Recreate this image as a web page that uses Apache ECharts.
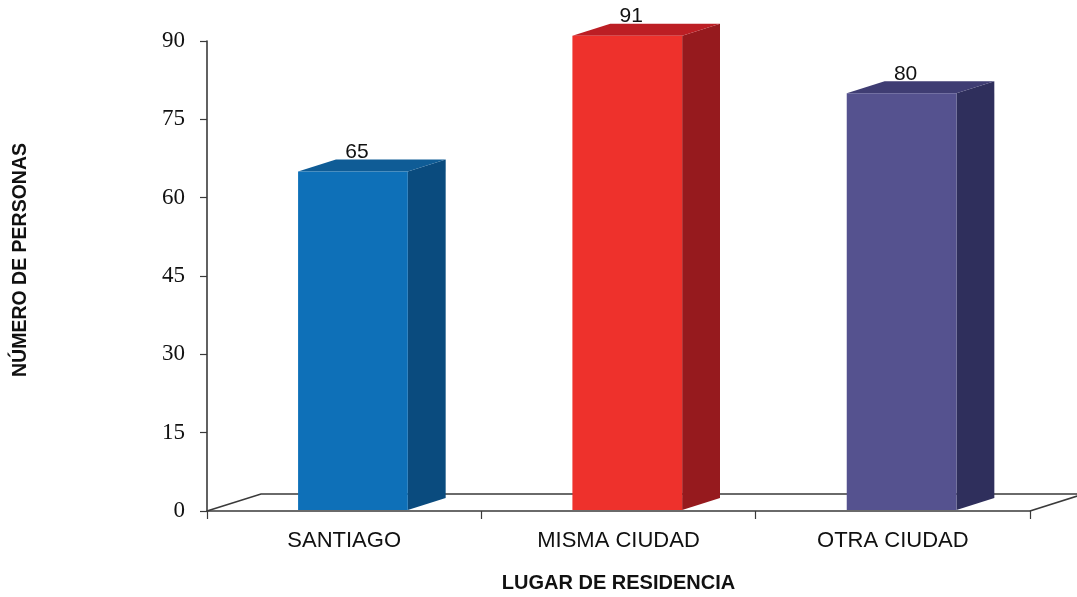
<!DOCTYPE html>
<html>
<head>
<meta charset="utf-8">
<script src="https://cdn.jsdelivr.net/npm/echarts@6/dist/echarts.min.js"></script>
<style>
  html, body { margin: 0; padding: 0; background: #fff; }
  #chart-panel { width: 1077px; height: 597px; }
</style>
</head>
<body>
<div id="chart-panel"></div>
<script>
// data
const categories = ['SANTIAGO', 'MISMA CIUDAD', 'OTRA CIUDAD'];
const values = [65, 91, 80];
const yTicks = [0, 15, 30, 45, 60, 75, 90];

// colours per bar: front, side, top
const frontColors = ['#0e70b8', '#ee312c', '#55528f'];
const sideColors = ['#0a4b7e', '#961a1e', '#2f2f5c'];
const topColors = ['#0f5c96', '#bc1e24', '#3f3d73'];

var myChart = echarts.init(document.getElementById('chart-panel'));

const lineColor = '#3a3a3a';

function renderFloor(params, api) {
  const cs = params.coordSys;
  const x0 = cs.x, x1 = cs.x + cs.width, y = cs.y + cs.height;
  const dx = 54, dy = 17;
  return {
    type: 'group',
    children: [
      { type: 'polyline', shape: { points: [[x0, y], [x0 + dx, y - dy], [x1 + dx, y - dy]] },
        style: { stroke: lineColor, lineWidth: 1.6, fill: null } },
      { type: 'line', shape: { x1: x1, y1: y, x2: x1 + dx, y2: y - dy },
        style: { stroke: lineColor, lineWidth: 1.6 } }
    ]
  };
}

function renderBar(params, api) {
  const idx = api.value(0);
  const val = api.value(1);
  const base = api.coord([idx, 0]);
  const top = api.coord([idx, val]);
  const band = api.size([1, 0])[0];
  const w = band * 0.4;
  const dx = band * 0.138;
  const dy = 12;
  const x0 = base[0] - band * 0.168;
  const yb = base[1] - 1;
  const yt = top[1];
  const i = params.dataIndex;
  return {
    type: 'group',
    children: [
      { type: 'polygon', shape: { points: [[x0 + w, yt], [x0 + w + dx, yt - dy], [x0 + w + dx, yb - dy], [x0 + w, yb]] },
        style: { fill: sideColors[i] } },
      { type: 'polygon', shape: { points: [[x0, yt], [x0 + dx, yt - dy], [x0 + w + dx, yt - dy], [x0 + w, yt]] },
        style: { fill: topColors[i] } },
      { type: 'rect', shape: { x: x0, y: yt, width: w, height: yb - yt },
        style: { fill: frontColors[i] } },
      { type: 'text', x: x0 + w / 2 + 4, y: yt - dy + 3,
        style: { text: String(values[i]), align: 'center', verticalAlign: 'bottom',
          fontSize: 21, fontFamily: '"Liberation Sans", Arial, sans-serif', fill: '#111' } }
    ]
  };
}

myChart.setOption({
  animation: false,
  grid: { left: 207, right: 47, top: 41, bottom: 86, outerBoundsMode: 'none', containLabel: false },
  xAxis: {
    type: 'category',
    data: categories,
    boundaryGap: true,
    axisLine: { lineStyle: { color: lineColor, width: 1.6 } },
    axisTick: { show: true, length: 8, lineStyle: { color: lineColor, width: 1.2 } },
    axisLabel: { margin: 19, color: '#111', fontSize: 22, fontFamily: '"Liberation Sans", Arial, sans-serif' },
    name: 'LUGAR DE RESIDENCIA',
    nameLocation: 'middle',
    nameGap: 62,
    nameTextStyle: { color: '#111', fontSize: 20, fontWeight: 'bold', fontFamily: '"Liberation Sans", Arial, sans-serif' }
  },
  yAxis: {
    type: 'value',
    min: yTicks[0],
    max: yTicks[yTicks.length - 1],
    interval: yTicks[1] - yTicks[0],
    splitLine: { show: false },
    axisLine: { show: true, lineStyle: { color: lineColor, width: 1.6 } },
    axisTick: { show: true, length: 7, lineStyle: { color: lineColor, width: 1.2 } },
    axisLabel: { margin: 22, color: '#111', fontSize: 23, fontFamily: '"Liberation Serif", "Times New Roman", serif' },
    name: 'NÚMERO DE PERSONAS',
    nameLocation: 'middle',
    nameGap: 176,
    nameRotate: 90,
    nameTextStyle: { color: '#111', fontSize: 19.5, fontWeight: 'bold', fontFamily: '"Liberation Sans", Arial, sans-serif',
      padding: [0, 0, 0, 32] }
  },
  series: [
    {
      type: 'custom',
      name: 'floor',
      renderItem: renderFloor,
      data: [[0, 0]],
      silent: true,
      z: 1
    },
    {
      type: 'custom',
      name: 'Personas',
      renderItem: renderBar,
      data: values.map(function (v, i) { return [i, v]; }),
      z: 3
    }
  ]
});
</script>
</body>
</html>
